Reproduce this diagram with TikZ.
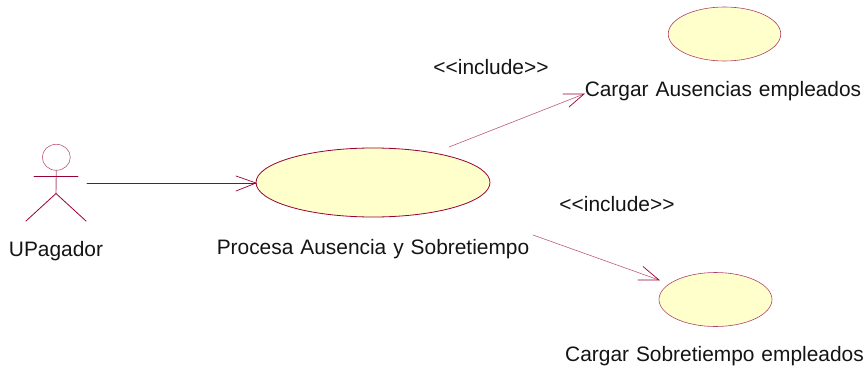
\documentclass[tikz,border=0pt]{standalone}
\usepackage{fontspec}
\setmainfont[WordSpace=1.2]{Liberation Sans}
\usetikzlibrary{shapes.geometric}
\definecolor{umlline}{HTML}{990033}
\definecolor{umlfill}{HTML}{FFFFCC}
\tikzset{
  usecase/.style={draw=umlline,fill=umlfill,ellipse,inner sep=0pt,line width=0.6pt},
  label/.style={inner sep=0pt,font=\fontsize{20.9}{23}\selectfont,text=black!92},
  conn/.style={draw=umlline,line width=0.7pt,line cap=round},
  thin conn/.style={draw=umlline!65,line width=0.6pt,line cap=round},
  limb/.style={draw=umlline,line width=0.8pt,line cap=round},
}
\begin{document}
\begin{tikzpicture}[x=1pt,y=-1pt]
\useasboundingbox (0,0) rectangle (865,367);
% use cases
\node[usecase,line width=0.8pt,minimum width=234pt,minimum height=69pt] (main) at (373,182.5) {};
\node[usecase,draw=umlline!75,minimum width=112.5pt,minimum height=54pt] (aus) at (724.5,34) {};
\node[usecase,draw=umlline!75,minimum width=113pt,minimum height=54pt] (sob) at (715.5,299.5) {};
% actor
\node[draw=umlline!65,ellipse,minimum width=28pt,minimum height=26pt,inner sep=0pt,line width=0.6pt] (head) at (56.3,157.3) {};
\coordinate (hip) at (56,193.5);
\coordinate (armL) at (34,176);
\coordinate (armR) at (78,176);
\coordinate (legL) at (26,221);
\coordinate (legR) at (86,221);
\draw[thin conn,line width=0.9pt] (head.south) -- (hip);
\draw[limb] (armL) -- (armR);
\draw[limb] (legL) -- (hip) -- (legR);
% labels
\node[label,anchor=base] (actorlabel) at (56,256.5) {UPagador};
\node[label,anchor=base] (mainlabel) at (373,254.2) {Procesa Ausencia y Sobretiempo};
\node[label,anchor=base] (auslabel) at (723,96.5) {Cargar Ausencias empleados};
\node[label,anchor=base] (soblabel) at (714.5,361.5) {Cargar Sobretiempo empleados};
\node[label,anchor=base] (inc1) at (491,74) {<{}<include>{}>};
\node[label,anchor=base] (inc2) at (617,211) {<{}<include>{}>};
% connectors
\coordinate (a0) at (87,183);
\coordinate (a1) at (256,183);
\coordinate (a1u) at (236,176);
\coordinate (a1d) at (236,191);
\draw[conn] (a0) -- (a1);
\draw[conn] (a1u) -- (a1) -- (a1d);
\coordinate (b0) at (449,147);
\coordinate (b1) at (584,94);
\coordinate (b1u) at (563,94);
\coordinate (b1d) at (569,107);
\draw[thin conn] (b0) -- (b1);
\draw[conn] (b1u) -- (b1) -- (b1d);
\coordinate (c0) at (533,235);
\coordinate (c1) at (659,280);
\coordinate (c1u) at (643,266.5);
\coordinate (c1d) at (638,280);
\draw[thin conn] (c0) -- (c1);
\draw[conn] (c1u) -- (c1) -- (c1d);
\end{tikzpicture}
\end{document}
